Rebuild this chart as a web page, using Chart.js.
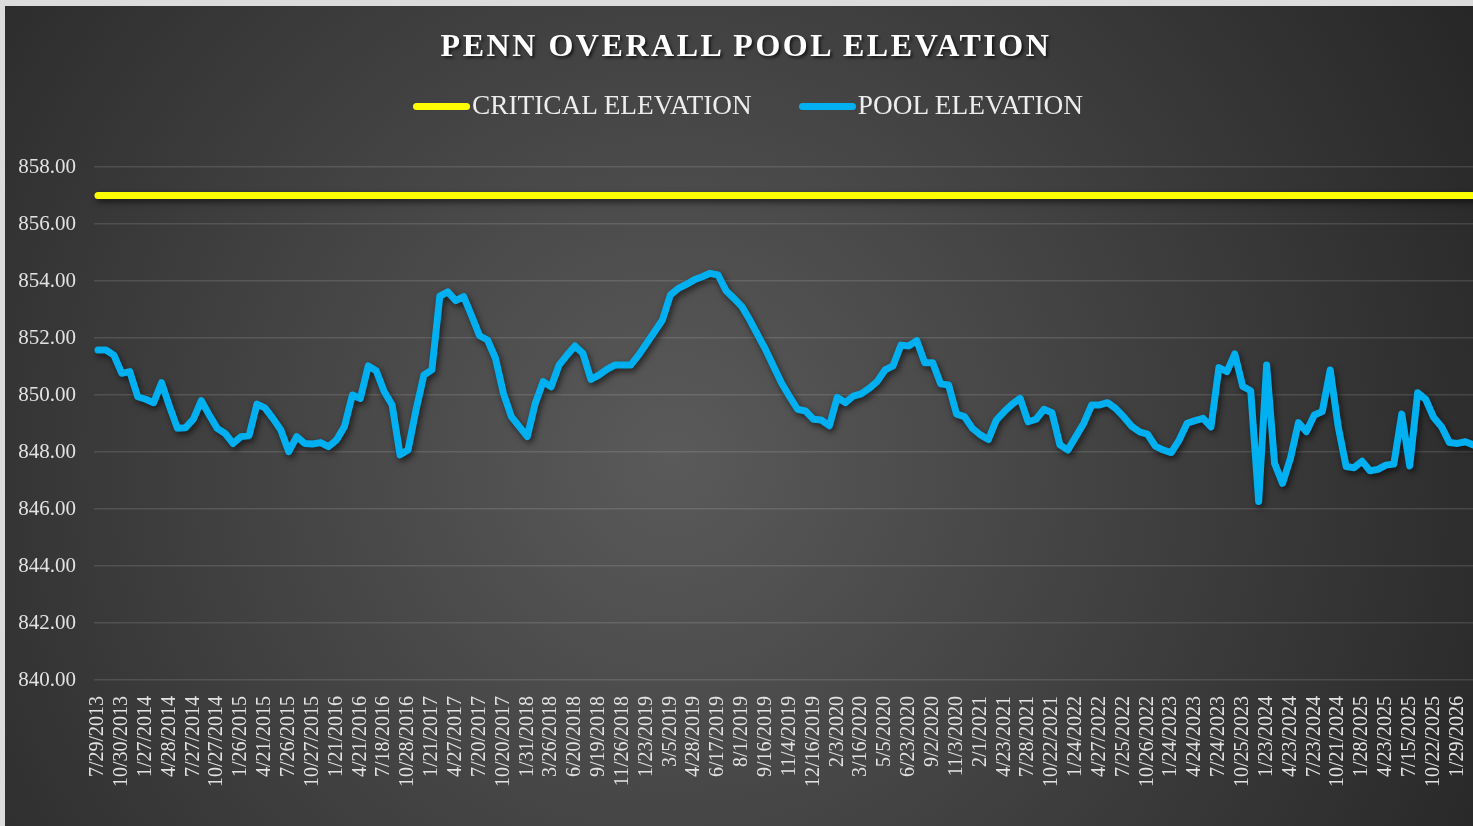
<!DOCTYPE html>
<html>
<head>
<meta charset="utf-8">
<title>Penn Overall Pool Elevation</title>
<script src="https://cdn.jsdelivr.net/npm/chart.js@4.4.1/dist/chart.umd.min.js"></script>
<style>
  html, body { margin: 0; padding: 0; overflow: hidden; background: #dcdcdc; }
  #frame {
    position: absolute; left: 5px; top: 6px; width: 1482px; height: 820px;
    background: radial-gradient(circle farthest-corner at 45% 55%, #5a5a5a 0%, #262626 100%);
  }
  #title {
    position: absolute; left: 0; width: 100%; top: 23.4px; padding-left: 0;
    text-align: center; color: #fff;
    font: bold 32px 'Times New Roman', 'Liberation Serif', serif; line-height: 32px;
    letter-spacing: 2.55px; text-shadow: 2px 2px 3px rgba(0,0,0,0.65);
  }
  #legend {
    position: absolute; left: 2px; width: 100%; top: 86.4px;
    display: flex; justify-content: center; align-items: center;
    font: 27.3px 'Times New Roman', 'Liberation Serif', serif; line-height: 27.3px; color: #ededed;
  }
  .item { display: flex; align-items: center; }
  .item + .item { margin-left: 47px; }
  .swatch { width: 57px; height: 7px; border-radius: 4px; margin-right: 2px; }
  canvas { position: absolute; left: 0; top: 0; }
</style>
</head>
<body>
<div id="frame">
  <canvas id="myChart" width="1482" height="820"></canvas>
  <div id="title">PENN OVERALL POOL ELEVATION</div>
  <div id="legend"></div>
</div>
<script>
// etiquetas visiveis do eixo x (uma a cada 3 leituras)
const tickLabels = [
  '7/29/2013', '10/30/2013', '1/27/2014', '4/28/2014', '7/27/2014', '10/27/2014',
  '1/26/2015', '4/21/2015', '7/26/2015', '10/27/2015', '1/21/2016', '4/21/2016',
  '7/18/2016', '10/28/2016', '1/21/2017', '4/27/2017', '7/20/2017', '10/20/2017',
  '1/31/2018', '3/26/2018', '6/20/2018', '9/19/2018', '11/26/2018', '1/23/2019',
  '3/5/2019', '4/28/2019', '6/17/2019', '8/1/2019', '9/16/2019', '11/4/2019',
  '12/16/2019', '2/3/2020', '3/16/2020', '5/5/2020', '6/23/2020', '9/2/2020',
  '11/3/2020', '2/1/2021', '4/23/2021', '7/28/2021', '10/22/2021', '1/24/2022',
  '4/27/2022', '7/25/2022', '10/26/2022', '1/24/2023', '4/24/2023', '7/24/2023',
  '10/25/2023', '1/23/2024', '4/23/2024', '7/23/2024', '10/21/2024', '1/28/2025',
  '4/23/2025', '7/15/2025', '10/22/2025', '1/29/2026'
];

// leituras da elevacao do lago
const poolElevation = [
  851.58, 851.58, 851.40, 850.76, 850.82, 849.94, 849.85, 849.73, 850.43, 849.60,
  848.83, 848.85, 849.15, 849.80, 849.30, 848.83, 848.65, 848.30, 848.54, 848.57,
  849.68, 849.55, 849.18, 848.77, 848.01, 848.54, 848.30, 848.28, 848.33, 848.19,
  848.42, 848.89, 850.00, 849.88, 851.02, 850.85, 850.12, 849.65, 847.90, 848.07,
  849.47, 850.70, 850.88, 853.47, 853.62, 853.31, 853.45, 852.78, 852.08, 851.93,
  851.29, 850.06, 849.24, 848.89, 848.54, 849.70, 850.47, 850.29, 851.05, 851.40,
  851.72, 851.46, 850.55, 850.70, 850.90, 851.05, 851.05, 851.05, 851.40, 851.81,
  852.22, 852.63, 853.51, 853.74, 853.88, 854.04, 854.15, 854.27, 854.21, 853.66,
  853.39, 853.10, 852.63, 852.10, 851.58, 850.99, 850.41, 849.94, 849.50, 849.44,
  849.15, 849.12, 848.92, 849.92, 849.73, 849.96, 850.04, 850.23, 850.47, 850.88,
  851.02, 851.75, 851.72, 851.91, 851.13, 851.13, 850.39, 850.35, 849.33, 849.24,
  848.83, 848.60, 848.44, 849.12, 849.42, 849.68, 849.88, 849.06, 849.15, 849.50,
  849.38, 848.25, 848.07, 848.54, 849.01, 849.65, 849.65, 849.73, 849.53, 849.24,
  848.91, 848.71, 848.63, 848.21, 848.07, 847.98, 848.42, 849.01, 849.10, 849.18,
  848.88, 850.96, 850.82, 851.44, 850.30, 850.15, 846.26, 851.05, 847.60, 846.90,
  847.78, 849.03, 848.71, 849.30, 849.42, 850.88, 848.89, 847.49, 847.45, 847.68,
  847.34, 847.39, 847.54, 847.58, 849.33, 847.51, 850.08, 849.85, 849.22, 848.89,
  848.33, 848.30, 848.36, 848.25
];

const criticalElevation = 857;
const yMin = 840;
const yMax = 858;
const yStep = 2;

const seriesNames = ['CRITICAL ELEVATION', 'POOL ELEVATION'];
const seriesColors = ['#FFFF00', '#00B0F0'];

const categories = poolElevation.map((v, i) => (i % 3 === 0 ? tickLabels[i / 3] : ''));

const serif = "'Times New Roman', 'Liberation Serif', serif";

// sombra das linhas, como no Excel
const lineShadow = {
  id: 'lineShadow',
  beforeDatasetsDraw(chart) {
    const c = chart.ctx;
    c.save();
    c.shadowColor = 'rgba(0,0,0,0.6)';
    c.shadowBlur = 6;
    c.shadowOffsetX = 2;
    c.shadowOffsetY = 3;
  },
  afterDatasetsDraw(chart) {
    chart.ctx.restore();
  }
};

function init() {
  const legend = document.getElementById('legend');
  seriesNames.forEach((name, i) => {
    const item = document.createElement('div');
    item.className = 'item';
    item.innerHTML = '<span class="swatch" style="background:' + seriesColors[i] + '"></span><span>' + name + '</span>';
    legend.appendChild(item);
  });

  const ctx = document.getElementById('myChart').getContext('2d');
  new Chart(ctx, {
    type: 'line',
    data: {
      labels: categories,
      datasets: [{
        label: seriesNames[0],
        data: categories.map(() => criticalElevation),
        borderColor: seriesColors[0],
        backgroundColor: seriesColors[0],
        borderWidth: 7
      }, {
        label: seriesNames[1],
        data: poolElevation,
        borderColor: seriesColors[1],
        backgroundColor: seriesColors[1],
        borderWidth: 7
      }]
    },
    options: {
      responsive: false,
      animation: false,
      devicePixelRatio: 1,
      layout: { padding: { top: 161, right: 9.7, bottom: 0, left: 0 } },
      elements: {
        point: { radius: 0, hoverRadius: 0 },
        line: { tension: 0, borderCapStyle: 'round', borderJoinStyle: 'round', fill: false }
      },
      plugins: {
        legend: { display: false },
        title: { display: false },
        tooltip: { enabled: false }
      },
      scales: {
        x: {
          offset: true,
          grid: { display: false, drawTicks: false },
          border: { display: false },
          ticks: {
            autoSkip: false,
            minRotation: 90,
            maxRotation: 90,
            padding: 16,
            color: '#e2e2e2',
            font: { family: serif, size: 20 }
          },
          afterFit: s => {
            s.height = 146;
            s.paddingLeft = 0;
            s.paddingRight = 0;
          }
        },
        y: {
          min: yMin,
          max: yMax,
          grid: { color: 'rgba(255,255,255,0.12)', lineWidth: 1.5, drawTicks: false },
          border: { display: false },
          ticks: {
            stepSize: yStep,
            padding: 18,
            color: '#e2e2e2',
            font: { family: serif, size: 21 },
            callback: v => v.toFixed(2)
          },
          afterFit: s => { s.width = 89; }
        }
      }
    },
    plugins: [lineShadow]
  });
}

window.addEventListener('DOMContentLoaded', init);
</script>
</body>
</html>
